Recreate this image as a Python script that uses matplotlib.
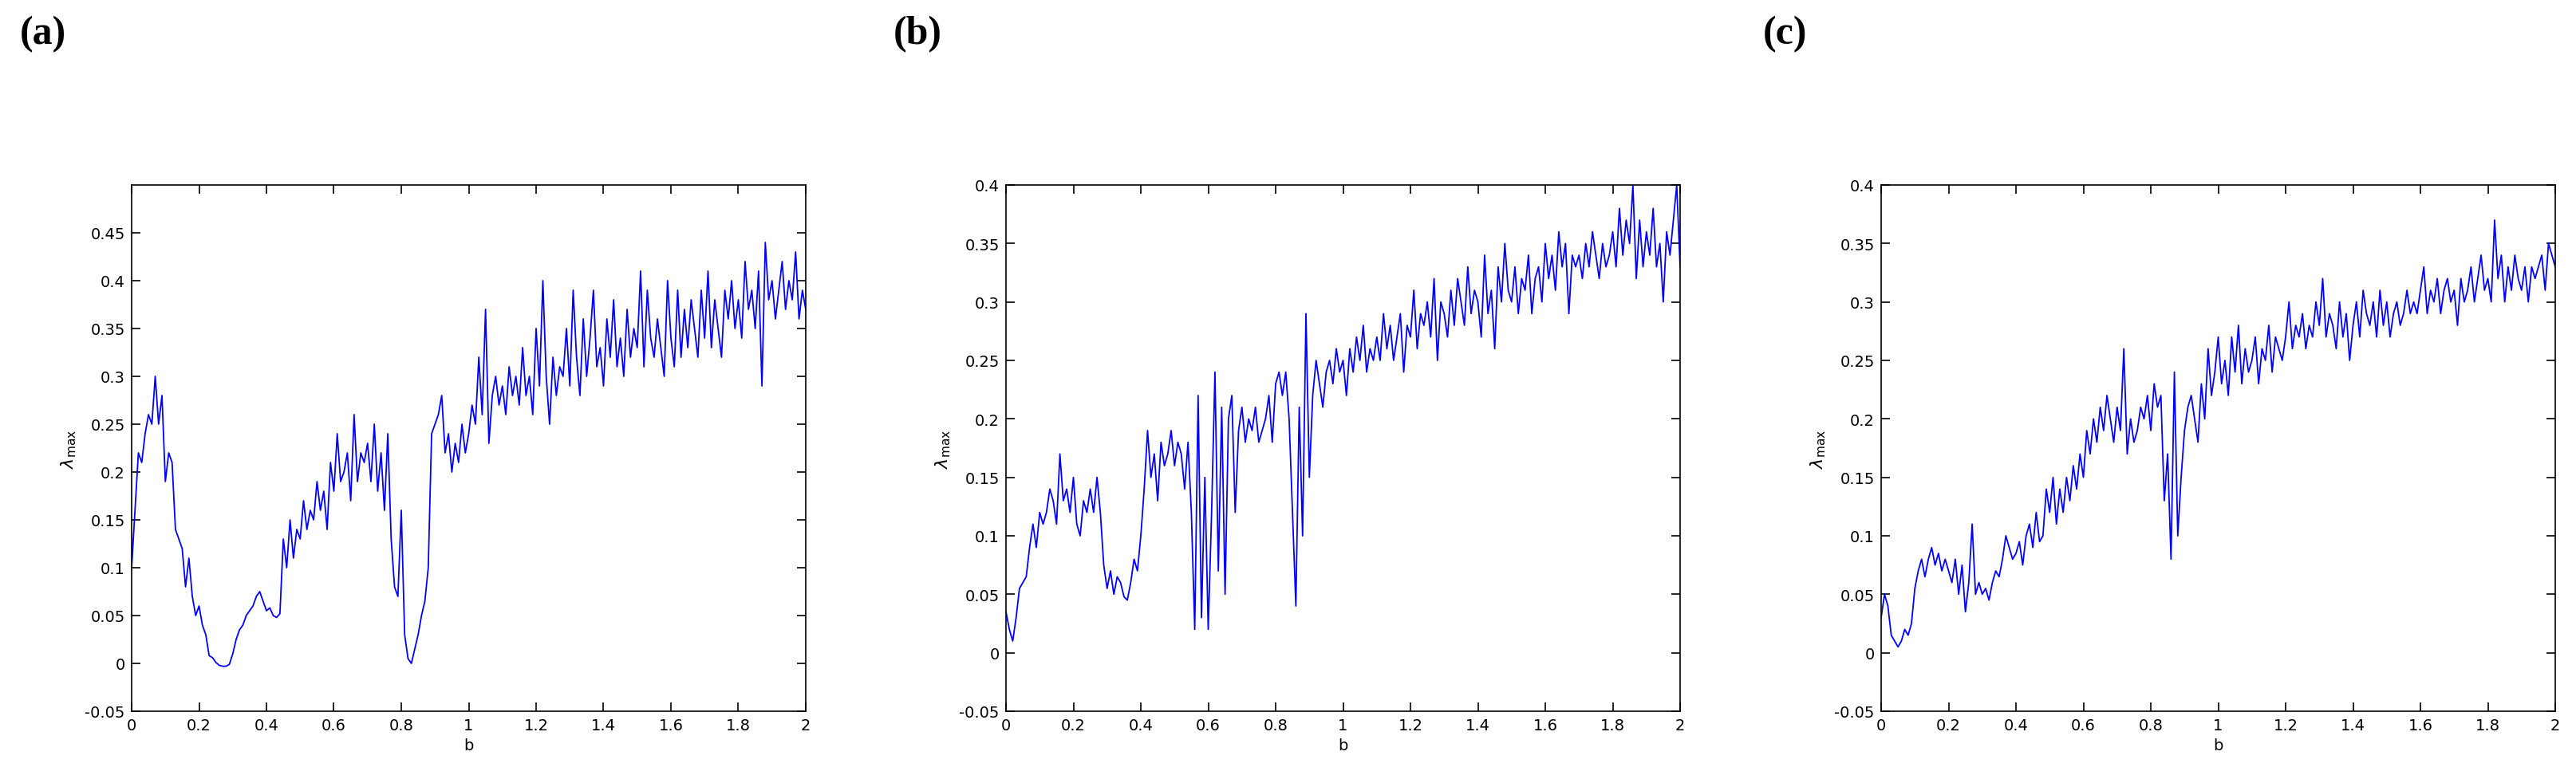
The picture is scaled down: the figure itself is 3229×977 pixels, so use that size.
import numpy as np
import matplotlib
matplotlib.use("Agg")
import matplotlib.pyplot as plt

b = np.round(np.arange(0, 2.0001, 0.01), 2)

lam_a = [0.10,0.16,0.22,0.21,0.24,0.26,0.25,0.30,0.25,0.28,
0.19,0.22,0.21,0.14,0.13,0.12,0.08,0.11,0.07,0.05,
0.06,0.04,0.03,0.008,0.006,0.001,-0.002,-0.003,-0.003,-0.001,
0.01,0.025,0.035,0.04,0.05,0.055,0.06,0.07,0.075,0.065,
0.055,0.058,0.05,0.048,0.052,0.13,0.10,0.15,0.11,0.14,
0.13,0.17,0.14,0.16,0.15,0.19,0.16,0.18,0.14,0.21,
0.18,0.24,0.19,0.20,0.22,0.17,0.26,0.19,0.22,0.21,
0.23,0.19,0.25,0.18,0.22,0.16,0.24,0.13,0.08,0.07,
0.16,0.03,0.005,0.0,0.015,0.03,0.05,0.065,0.10,0.24,
0.25,0.26,0.28,0.22,0.24,0.20,0.23,0.21,0.25,0.22,
0.24,0.27,0.25,0.32,0.26,0.37,0.23,0.28,0.30,0.27,
0.29,0.26,0.31,0.28,0.30,0.27,0.33,0.28,0.30,0.26,
0.35,0.29,0.40,0.30,0.25,0.32,0.28,0.31,0.30,0.35,
0.29,0.39,0.32,0.28,0.36,0.30,0.34,0.39,0.31,0.33,
0.29,0.36,0.32,0.38,0.31,0.34,0.30,0.37,0.32,0.35,
0.33,0.41,0.31,0.39,0.34,0.32,0.36,0.33,0.30,0.40,
0.34,0.31,0.39,0.32,0.37,0.33,0.38,0.35,0.32,0.39,
0.34,0.41,0.33,0.38,0.35,0.32,0.39,0.36,0.40,0.35,
0.38,0.34,0.42,0.37,0.39,0.35,0.41,0.29,0.44,0.38,
0.40,0.36,0.39,0.42,0.37,0.40,0.38,0.43,0.36,0.39,
0.37]

lam_b = [0.035,0.02,0.01,0.03,0.055,0.06,0.065,0.09,0.11,0.09,
0.12,0.11,0.12,0.14,0.13,0.11,0.17,0.13,0.14,0.12,
0.15,0.11,0.10,0.13,0.12,0.14,0.12,0.15,0.12,0.075,
0.055,0.07,0.05,0.065,0.06,0.048,0.045,0.06,0.08,0.07,
0.10,0.14,0.19,0.15,0.17,0.13,0.18,0.16,0.17,0.19,
0.16,0.18,0.17,0.14,0.18,0.12,0.02,0.22,0.03,0.15,
0.02,0.12,0.24,0.07,0.21,0.05,0.20,0.22,0.12,0.19,
0.21,0.18,0.20,0.19,0.21,0.18,0.19,0.20,0.22,0.18,
0.23,0.24,0.22,0.24,0.20,0.12,0.04,0.21,0.10,0.29,
0.15,0.22,0.25,0.23,0.21,0.24,0.25,0.23,0.26,0.24,
0.25,0.22,0.26,0.24,0.27,0.25,0.28,0.24,0.26,0.25,
0.27,0.25,0.29,0.26,0.28,0.25,0.27,0.29,0.24,0.28,
0.27,0.31,0.26,0.29,0.28,0.30,0.27,0.32,0.25,0.30,
0.29,0.27,0.31,0.28,0.32,0.30,0.28,0.33,0.29,0.31,
0.30,0.27,0.34,0.29,0.31,0.26,0.33,0.30,0.35,0.31,
0.30,0.33,0.29,0.32,0.31,0.34,0.29,0.32,0.33,0.30,
0.35,0.32,0.34,0.31,0.36,0.33,0.35,0.29,0.34,0.33,
0.34,0.32,0.35,0.33,0.36,0.34,0.32,0.35,0.33,0.34,
0.36,0.33,0.38,0.34,0.37,0.35,0.40,0.32,0.37,0.33,
0.36,0.34,0.38,0.33,0.35,0.30,0.36,0.34,0.37,0.40,
0.33]

lam_c = [0.03,0.05,0.04,0.015,0.01,0.005,0.01,0.02,0.015,0.025,
0.055,0.07,0.08,0.065,0.08,0.09,0.075,0.085,0.07,0.08,
0.07,0.06,0.08,0.05,0.075,0.035,0.06,0.11,0.05,0.06,
0.05,0.055,0.045,0.06,0.07,0.065,0.08,0.10,0.09,0.08,
0.085,0.095,0.075,0.10,0.11,0.09,0.12,0.095,0.10,0.14,
0.12,0.15,0.11,0.14,0.12,0.15,0.13,0.16,0.14,0.17,
0.15,0.19,0.17,0.20,0.18,0.21,0.19,0.22,0.20,0.18,
0.21,0.19,0.26,0.17,0.20,0.18,0.19,0.21,0.20,0.22,
0.19,0.23,0.21,0.22,0.13,0.17,0.08,0.24,0.10,0.15,
0.19,0.21,0.22,0.20,0.18,0.23,0.20,0.26,0.22,0.24,
0.27,0.23,0.25,0.22,0.27,0.24,0.28,0.23,0.26,0.24,
0.25,0.27,0.23,0.26,0.25,0.28,0.24,0.27,0.26,0.25,
0.27,0.30,0.26,0.28,0.27,0.29,0.26,0.28,0.27,0.30,
0.28,0.32,0.27,0.29,0.28,0.26,0.30,0.27,0.29,0.25,
0.28,0.30,0.27,0.31,0.29,0.28,0.30,0.27,0.31,0.28,
0.30,0.27,0.29,0.30,0.28,0.29,0.31,0.29,0.30,0.29,
0.31,0.33,0.29,0.31,0.30,0.32,0.29,0.31,0.32,0.30,
0.31,0.28,0.32,0.30,0.31,0.33,0.30,0.32,0.34,0.31,
0.32,0.30,0.37,0.32,0.34,0.30,0.33,0.31,0.34,0.32,
0.31,0.33,0.30,0.33,0.32,0.33,0.34,0.31,0.35,0.34,
0.33]

panels = ["(a)", "(b)", "(c)"]
series = [lam_a, lam_b, lam_c]
ylims = [(-0.05, 0.5), (-0.05, 0.4), (-0.05, 0.4)]
yticks = [np.round(np.arange(-0.05, 0.451, 0.05), 2), np.round(np.arange(-0.05, 0.401, 0.05), 2), np.round(np.arange(-0.05, 0.401, 0.05), 2)]
xticks = np.round(np.arange(0, 2.01, 0.2), 1)

W, H = 3229, 978
fig = plt.figure(figsize=(W/100, H/100), dpi=100)
lefts = [165, 1261, 2358]
labx = [25, 1120, 2210]
aw = 845
bot, top = 893, 233

def fmt(v):
    return f"{v:g}"

for i in range(3):
    ax = fig.add_axes([lefts[i]/W, 1-bot/H, aw/W, (bot-top)/H])
    ax.plot(b, series[i], color="#0000ff", lw=1.3)
    ax.set_xlim(0, 2)
    ax.set_ylim(*ylims[i])
    ax.set_xticks(xticks)
    ax.set_xticklabels([fmt(v) for v in xticks])
    ax.set_yticks(yticks[i])
    ax.set_yticklabels([fmt(v) for v in yticks[i]])
    ax.tick_params(direction="in", top=True, right=True, labelsize=14, length=8, width=1.2, pad=6)
    for s in ax.spines.values():
        s.set_linewidth(1.2)
    ax.set_xlabel("b", fontsize=14, labelpad=4)
    ax.set_ylabel(r"$\lambda_{\mathrm{max}}$", fontsize=16, labelpad=6)
    fig.text(labx[i]/W, 1-20/H, panels[i], fontsize=36, fontweight="bold",
             family="Liberation Serif", va="top", ha="left")

fig.savefig("out.png", dpi=100)
